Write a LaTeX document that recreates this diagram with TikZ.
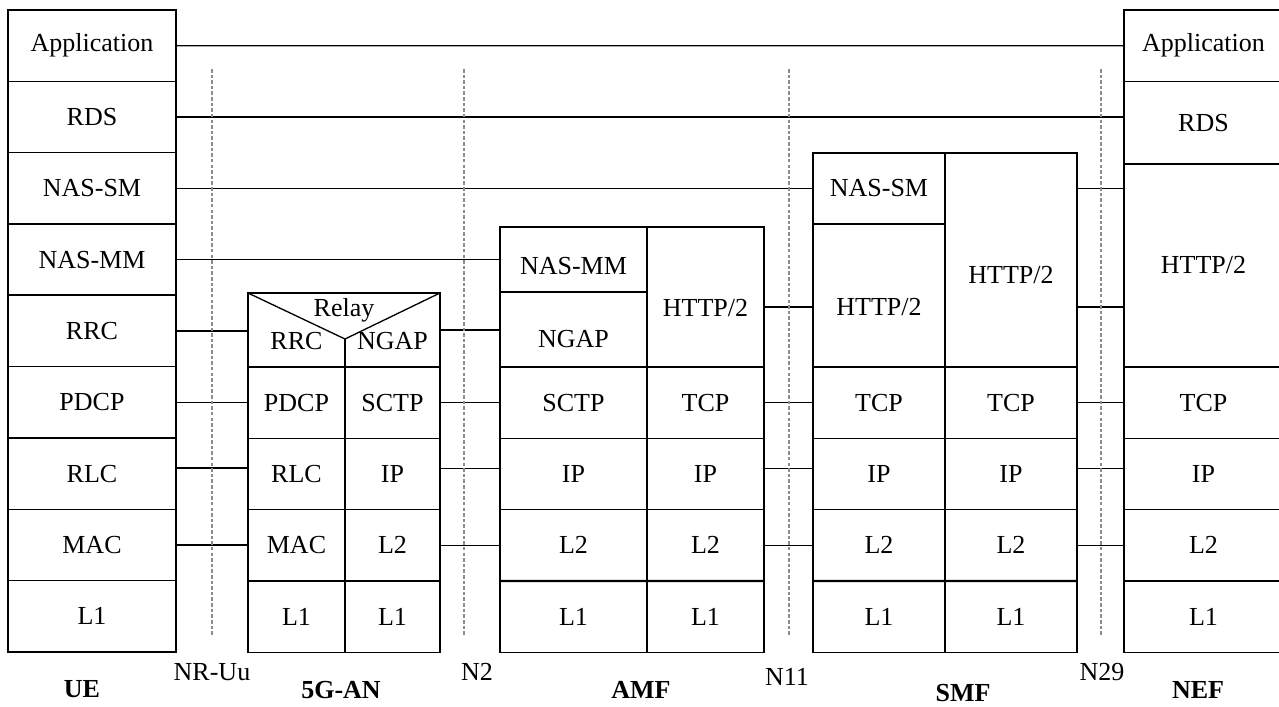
\documentclass[tikz,border=0pt]{standalone}
\usepackage{fontspec}
\setmainfont{Liberation Serif}
\usetikzlibrary{positioning}
\definecolor{ink}{HTML}{000000}
\definecolor{iface}{HTML}{8C8C8C}

\begin{document}
\begin{tikzpicture}[
  x=0.02cm, y=-0.02cm,
  font=\fontsize{14.8pt}{17pt}\selectfont,
  layer/.style={draw=ink, line width=0.75pt, inner sep=0pt, outer sep=0pt, minimum height=1.4267cm},
  uecol/.style={layer, minimum width=3.36cm},
  anl/.style={layer, minimum width=1.94cm},
  anr/.style={layer, minimum width=1.9cm},
  amfl/.style={layer, minimum width=2.94cm},
  amfr/.style={layer, minimum width=2.34cm},
  smfcol/.style={layer, minimum width=2.64cm},
  nefcol/.style={layer, minimum width=3.18cm},
  link/.style={draw=ink, line width=0.75pt},
  heavy/.style={draw=ink, line width=1.3pt},
  ifline/.style={draw=iface, line width=0.7pt, dash pattern=on 2pt off 1.2pt},
  tag/.style={font=\fontsize{14.8pt}{17pt}\selectfont\bfseries}
  ]
  \useasboundingbox (0,0) rectangle (1279,707);

  % UE stack
  \node[uecol] (ueapp) at (92,45.67) {Application};
  \node[uecol, below=0pt of ueapp] (uerds) {RDS};
  \node[uecol, below=0pt of uerds] (uesm) {NAS-SM};
  \node[uecol, below=0pt of uesm] (uemm) {NAS-MM};
  \node[uecol, below=0pt of uemm] (uerrc) {RRC};
  \node[uecol, below=0pt of uerrc] (uepdcp) {PDCP};
  \node[uecol, below=0pt of uepdcp] (uerlc) {RLC};
  \node[uecol, below=0pt of uerlc] (uemac) {MAC};
  \node[uecol, below=0pt of uemac] (uel1) {L1};

  % 5G-AN stack
  \node[layer, minimum width=3.84cm, minimum height=1.48cm, anchor=north west] (anrelay) at (248,293) {};
  \coordinate (vtip) at (345,339);
  \draw[link] (anrelay.north west) -- (vtip) -- (anrelay.north east);
  \draw[link] (vtip) -- (vtip |- anrelay.south);
  \node (relay) at (344,310) {Relay};
  \node (anrrc) at (296.5,341.5) {RRC};
  \node (anngap) at (392.5,341.5) {NGAP};
  \node[anl, anchor=north west] (anpdcp) at (anrelay.south west) {PDCP};
  \node[anl, below=0pt of anpdcp] (anrlc) {RLC};
  \node[anl, below=0pt of anrlc] (anmac) {MAC};
  \node[anl, below=0pt of anmac] (anl1a) {L1};
  \node[anr, anchor=north east] (ansctp) at (anrelay.south east) {SCTP};
  \node[anr, below=0pt of ansctp] (anip) {IP};
  \node[anr, below=0pt of anip] (anl2) {L2};
  \node[anr, below=0pt of anl2] (anl1b) {L1};

  % AMF stack
  \node[amfl, minimum height=1.3cm, anchor=north west, label={[yshift=-1.3mm]center:NAS-MM}] (amfmm) at (500,227) {};
  \node[amfl, minimum height=1.5cm, below=0pt of amfmm, label={[yshift=-2mm]center:NGAP}] (amfngap) {};
  \node[amfr, minimum height=2.8cm, anchor=north west, label={[yshift=-2.2mm]center:HTTP/2}] (amfhttp) at (amfmm.north east) {};
  \node[amfl, anchor=north west] (amfsctp) at (amfngap.south west) {SCTP};
  \node[amfl, below=0pt of amfsctp] (amfipa) {IP};
  \node[amfl, below=0pt of amfipa] (amfl2a) {L2};
  \node[amfl, below=0pt of amfl2a] (amfl1a) {L1};
  \node[amfr, anchor=north west] (amftcp) at (amfhttp.south west) {TCP};
  \node[amfr, below=0pt of amftcp] (amfipb) {IP};
  \node[amfr, below=0pt of amfipb] (amfl2b) {L2};
  \node[amfr, below=0pt of amfl2b] (amfl1b) {L1};

  % SMF stack
  \node[smfcol, minimum height=1.42cm, anchor=north west] (smfsm) at (813,153) {NAS-SM};
  \node[smfcol, minimum height=2.86cm, below=0pt of smfsm, label={[yshift=-2.3mm]center:HTTP/2}] (smfhttpa) {};
  \node[smfcol, minimum height=4.28cm, anchor=north west, label={[yshift=-3.1mm]center:HTTP/2}] (smfhttpb) at (smfsm.north east) {};
  \node[smfcol, anchor=north west] (smftcpa) at (smfhttpa.south west) {TCP};
  \node[smfcol, below=0pt of smftcpa] (smfipa) {IP};
  \node[smfcol, below=0pt of smfipa] (smfl2a) {L2};
  \node[smfcol, below=0pt of smfl2a] (smfl1a) {L1};
  \node[smfcol, anchor=north west] (smftcpb) at (smfhttpb.south west) {TCP};
  \node[smfcol, below=0pt of smftcpb] (smfipb) {IP};
  \node[smfcol, below=0pt of smfipb] (smfl2b) {L2};
  \node[smfcol, below=0pt of smfl2b] (smfl1b) {L1};

  % NEF stack
  \node[nefcol, anchor=north west] (nefapp) at (1124,10) {Application};
  \node[nefcol, minimum height=1.653cm, below=0pt of nefapp] (nefrds) {RDS};
  \node[nefcol, minimum height=4.06cm, below=0pt of nefrds] (nefhttp) {HTTP/2};
  \node[nefcol, below=0pt of nefhttp] (neftcp) {TCP};
  \node[nefcol, below=0pt of neftcp] (nefip) {IP};
  \node[nefcol, below=0pt of nefip] (nefl2) {L2};
  \node[nefcol, below=0pt of nefl2] (nefl1) {L1};

  % heavier layer borders
  \draw[heavy] (uemm.south west) -- (uemm.south east);
  \draw[heavy] (amfmm.south west) -- (amfmm.south east);
  \draw[heavy] (amfl1a.north west) -- (amfl1b.north east);
  \draw[heavy] (smfl1a.north west) -- (smfl1b.north east);
  \draw[heavy] (nefl1.north west) -- (nefl1.north east);

  % peer links
  \draw[link] (ueapp.east) -- (nefapp.west);
  \draw[link] (uerds.east) -- (uerds.east -| nefrds.west);
  \draw[link] (uesm.east) -- (uesm.east -| smfsm.west);
  \draw[link] (smfsm.east -| smfhttpb.east) -- (smfsm.east -| nefhttp.west);
  \draw[link] (uemm.east) -- (uemm.east -| amfmm.west);
  \draw[link] (uerrc.east) -- (uerrc.east -| anrelay.west);
  \draw[link] (anrelay.east) -- (anrelay.east -| amfngap.west);
  \draw[link] ([yshift=-2mm]amfhttp.east) -- ([yshift=-2mm]amfhttp.east -| smfhttpa.west);
  \draw[link] ([yshift=-2mm]amfhttp.east -| smfhttpb.east) -- ([yshift=-2mm]amfhttp.east -| nefhttp.west);

  \draw[link] (uepdcp.east) -- (uepdcp.east -| anpdcp.west);
  \draw[link] ([yshift=1.1mm]uerlc.east) -- ([yshift=1.1mm]uerlc.east -| anrlc.west);
  \draw[link] (uemac.east) -- (uemac.east -| anmac.west);
  \draw[link] (ansctp.east) -- (ansctp.east -| amfsctp.west);
  \draw[link] ([yshift=1.1mm]anip.east) -- ([yshift=1.1mm]anip.east -| amfipa.west);
  \draw[link] (anl2.east) -- (anl2.east -| amfl2a.west);
  \draw[link] (amftcp.east) -- (amftcp.east -| smftcpa.west);
  \draw[link] ([yshift=1.1mm]amfipb.east) -- ([yshift=1.1mm]amfipb.east -| smfipa.west);
  \draw[link] (amfl2b.east) -- (amfl2b.east -| smfl2a.west);
  \draw[link] (smftcpb.east) -- (smftcpb.east -| neftcp.west);
  \draw[link] ([yshift=1.1mm]smfipb.east) -- ([yshift=1.1mm]smfipb.east -| nefip.west);
  \draw[link] (smfl2b.east) -- (smfl2b.east -| nefl2.west);

  % reference points
  \draw[ifline] (212,69) -- (212,635);
  \draw[ifline] (464,69) -- (464,635);
  \draw[ifline] (789,69) -- (789,635);
  \draw[ifline] (1101,69) -- (1101,635);

  % captions
  \node[tag] (ue) at (82,689) {UE};
  \node (nruu) at (212,672) {NR-Uu};
  \node[tag] (an) at (341,690) {5G-AN};
  \node (ntwo) at (477,672) {N2};
  \node[tag] (amf) at (641,690) {AMF};
  \node (neleven) at (787,677) {N11};
  \node[tag] (smf) at (963,693) {SMF};
  \node (ntwentynine) at (1102,672) {N29};
  \node[tag] (nef) at (1198,690) {NEF};
\end{tikzpicture}
\end{document}
